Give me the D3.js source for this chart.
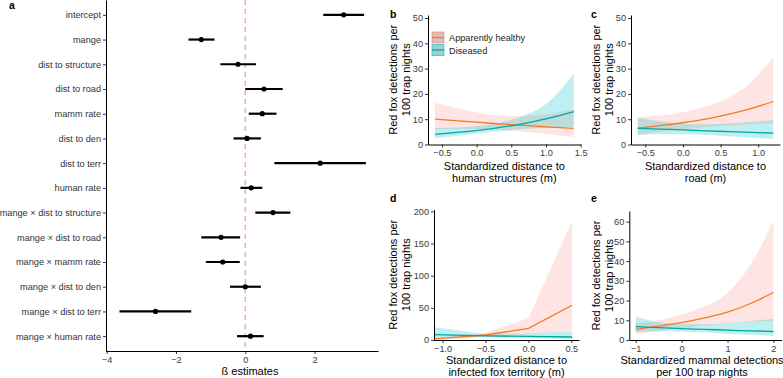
<!DOCTYPE html>
<html>
<head>
<meta charset="utf-8">
<script src="https://cdn.jsdelivr.net/npm/d3@7"></script>
<style>
  body { margin: 0; background: #fff; }
  svg { display: block; font-family: "Liberation Sans", Arial, sans-serif; }
  .tick text { font-size: 9.2px; fill: #3a3a3a; font-family: "Liberation Sans", Arial, sans-serif; }
  .tick line, .domain { stroke: #000; }
  .axis-title { font-size: 11px; fill: #000; }
  .panel-label { font-size: 10.5px; font-weight: bold; }
  .legend-text { font-size: 9.2px; fill: #222; }
</style>
</head>
<body>
<script>
/*
 * Fox detection model: coefficient plot (a) and predicted detections (b-e).
 */

// ---- panel a: beta estimates with intervals ----
const TERMS = ['intercept', 'mange', 'dist to structure', 'dist to road', 'mamm rate',
  'dist to den', 'dist to terr', 'human rate', 'mange × dist to structure',
  'mange × dist to road', 'mange × mamm rate', 'mange × dist to den',
  'mange × dist to terr', 'mange × human rate'];
const EST     = [2.84, -1.27, -0.21, 0.54, 0.49, 0.05, 2.16, 0.17, 0.80, -0.70, -0.65, 0.00, -2.59, 0.15];
const CI_LOW  = [2.25, -1.64, -0.72, 0.00, 0.10, -0.34, 0.84, -0.14, 0.29, -1.27, -1.14, -0.44, -3.63, -0.24];
const CI_HIGH = [3.43, -0.89, 0.31, 1.08, 0.90, 0.45, 3.48, 0.49, 1.30, -0.15, -0.16, 0.45, -1.56, 0.53];
const A_TICKS = [-4, -2, 0, 2];

// ---- panel b: distance to human structures ----
const B_X = [-0.6, -0.2, 0.2, 0.6, 1.0, 1.4];
const B_HEALTHY      = [10.0, 9.2, 8.4, 7.7, 7.0, 6.4];
const B_HEALTHY_LOW  = [6.0, 6.2, 6.0, 5.2, 4.2, 3.0];
const B_HEALTHY_HIGH = [16.5, 13.8, 11.8, 11.3, 12.0, 13.8];
const B_DISEASED      = [4.0, 5.0, 6.2, 7.9, 10.1, 13.0];
const B_DISEASED_LOW  = [2.5, 3.7, 4.9, 5.9, 6.6, 7.0];
const B_DISEASED_HIGH = [6.5, 6.8, 7.9, 10.7, 16.0, 28.0];
const B_XTICKS = [-0.5, 0, 0.5, 1, 1.5];
const B_YTICKS = [0, 10, 20, 30, 40, 50];

// ---- panel c: distance to road ----
const C_X = [-0.6, -0.3, 0, 0.3, 0.6, 0.9, 1.2];
const C_HEALTHY      = [6.5, 7.5, 8.6, 10.0, 11.9, 14.2, 17.0];
const C_HEALTHY_LOW  = [4.0, 5.0, 6.0, 6.8, 7.5, 8.0, 8.3];
const C_HEALTHY_HIGH = [10.8, 11.5, 12.8, 15.0, 18.5, 24.5, 34.5];
const C_DISEASED      = [6.4, 6.1, 5.8, 5.4, 5.1, 4.8, 4.5];
const C_DISEASED_LOW  = [3.8, 4.1, 4.1, 3.8, 3.3, 2.8, 2.2];
const C_DISEASED_HIGH = [10.5, 9.2, 8.2, 8.0, 8.3, 8.9, 9.6];
const C_XTICKS = [-0.5, 0, 0.5, 1];
const C_YTICKS = [0, 10, 20, 30, 40, 50];

// ---- panel d: distance to infected fox territory ----
const D_X = [-1.09, -0.5, 0.0, 0.51];
const D_HEALTHY      = [1.8, 7.8, 18.0, 54.0];
const D_HEALTHY_LOW  = [0.5, 5.0, 9.0, 15.0];
const D_HEALTHY_HIGH = [3.5, 11.0, 34.0, 185.0];
const D_DISEASED      = [8.5, 6.3, 5.5, 4.7];
const D_DISEASED_LOW  = [3.5, 4.5, 3.0, 1.5];
const D_DISEASED_HIGH = [20.0, 9.0, 10.0, 14.0];
const D_XTICKS = [-1, -0.5, 0, 0.5];
const D_YTICKS = [0, 50, 100, 150, 200];

// ---- panel e: mammal detections ----
const E_X = [-1, -0.5, 0, 0.5, 1, 1.5, 2];
const E_HEALTHY      = [5.4, 7.0, 8.8, 11.2, 14.1, 18.5, 24.1];
const E_HEALTHY_LOW  = [3.2, 4.6, 6.0, 7.3, 8.4, 9.2, 9.7];
const E_HEALTHY_HIGH = [8.5, 10.0, 13.0, 17.0, 24.0, 38.0, 60.5];
const E_DISEASED      = [6.8, 6.3, 5.8, 5.4, 5.0, 4.6, 4.3];
const E_DISEASED_LOW  = [4.0, 4.4, 4.3, 3.8, 3.2, 2.6, 2.0];
const E_DISEASED_HIGH = [11.9, 9.0, 8.0, 8.0, 8.5, 9.5, 10.8];
const E_XTICKS = [-1, 0, 1, 2];
const E_YTICKS = [0, 10, 20, 30, 40, 50, 60];

const LEGEND_LABELS = ['Apparently healthy', 'Diseased'];

// colours
const COLOR_HEALTHY = '#f47b20';
const COLOR_HEALTHY_FILL = '#F8766D';
const COLOR_DISEASED = '#00a89f';
const COLOR_DISEASED_FILL = '#00BFC4';

const WIDTH = 783;
const HEIGHT = 378;

const svg = d3.select('body')
  .append('svg')
    .attr('width', WIDTH)
    .attr('height', HEIGHT);

const styleAxis = g => {
  g.selectAll('.domain').attr('stroke-width', 1);
  g.selectAll('.tick line').attr('stroke-width', 0.8);
  g.attr('font-size', null).attr('font-family', null);
};

/*
 * Panel a: coefficient estimates.
 */
const addCoefPanel = () => {
  const left = 106, right = 378, bottom = 351;
  const xScale = d3.scaleLinear().domain([-4.02, 3.83]).range([left, right]);
  const yScale = d3.scalePoint().domain(TERMS).range([0, bottom]).padding(0.6);
  const g = svg.append('g').attr('id', 'panel-a');

  // zero line
  g.append('line')
      .attr('x1', xScale(0)).attr('x2', xScale(0))
      .attr('y1', 0).attr('y2', bottom)
      .attr('stroke', '#f5a9bb')
      .attr('stroke-width', 1.5)
      .attr('stroke-dasharray', '5,4');

  // intervals
  g.selectAll('.ci')
    .data(TERMS)
    .enter()
    .append('line')
      .attr('class', 'ci')
      .attr('x1', (d, i) => xScale(CI_LOW[i]))
      .attr('x2', (d, i) => xScale(CI_HIGH[i]))
      .attr('y1', d => yScale(d))
      .attr('y2', d => yScale(d))
      .attr('stroke', '#000')
      .attr('stroke-width', 2.2);

  g.selectAll('.dot')
    .data(TERMS)
    .enter()
    .append('circle')
      .attr('class', 'dot')
      .attr('cx', (d, i) => xScale(EST[i]))
      .attr('cy', d => yScale(d))
      .attr('r', 2.6)
      .attr('fill', '#000');

  g.append('g')
      .attr('transform', `translate(0, ${bottom})`)
      .call(d3.axisBottom(xScale).tickValues(A_TICKS).tickSize(3).tickSizeOuter(0).tickPadding(2.5))
      .call(styleAxis);

  g.append('g')
      .attr('transform', `translate(${left}, 0)`)
      .call(d3.axisLeft(yScale).tickSize(3).tickSizeOuter(0).tickPadding(2))
      .call(styleAxis)
      .selectAll('.tick text').style('fill', '#333');

  g.append('text')
      .attr('class', 'axis-title')
      .attr('x', 250)
      .attr('y', 375)
      .attr('text-anchor', 'middle')
      .text('ß estimates');

  g.append('text')
      .attr('class', 'panel-label')
      .attr('x', 9)
      .attr('y', 8.5)
      .text('a');
};

/*
 * Panels b-e: predicted detections for healthy and diseased foxes.
 */
const addPredPanel = p => {
  const xScale = d3.scaleLinear().domain(p.xDomain).range(p.xRange);
  const yScale = d3.scaleLinear().domain(p.yDomain).range(p.yRange);
  const g = svg.append('g');
  const curve = p.smooth ? d3.curveMonotoneX : d3.curveLinear;

  const rows = p.x.map((x, i) => ({
    x,
    hFit: p.healthy[i], hLow: p.healthyLow[i], hHigh: p.healthyHigh[i],
    dFit: p.diseased[i], dLow: p.diseasedLow[i], dHigh: p.diseasedHigh[i]
  }));

  const band = (lo, hi) => d3.area()
      .x(d => xScale(d.x))
      .y0(d => yScale(d[lo]))
      .y1(d => yScale(d[hi]))
      .curve(curve);
  const line = key => d3.line()
      .x(d => xScale(d.x))
      .y(d => yScale(d[key]))
      .curve(curve);

  g.append('path').datum(rows)
      .attr('d', band('hLow', 'hHigh'))
      .attr('fill', COLOR_HEALTHY_FILL)
      .attr('fill-opacity', 0.2);
  g.append('path').datum(rows)
      .attr('d', band('dLow', 'dHigh'))
      .attr('fill', COLOR_DISEASED_FILL)
      .attr('fill-opacity', 0.25);
  g.append('path').datum(rows)
      .attr('d', line('hFit'))
      .attr('fill', 'none')
      .attr('stroke', COLOR_HEALTHY)
      .attr('stroke-width', 1.3);
  g.append('path').datum(rows)
      .attr('d', line('dFit'))
      .attr('fill', 'none')
      .attr('stroke', COLOR_DISEASED)
      .attr('stroke-width', 1.3);

  g.append('g')
      .attr('transform', `translate(0, ${p.yRange[0]})`)
      .call(d3.axisBottom(xScale).tickValues(p.xTicks).tickFormat(p.xFormat)
            .tickSize(3).tickSizeOuter(0).tickPadding(2))
      .call(styleAxis);

  g.append('g')
      .attr('transform', `translate(${p.xRange[0]}, 0)`)
      .call(d3.axisLeft(yScale).tickValues(p.yTicks).tickSize(3).tickSizeOuter(0).tickPadding(2))
      .call(styleAxis);

  // x title, two lines
  const xMid = p.xTitleX || (p.xRange[0] + p.xRange[1]) / 2;
  p.xTitle.forEach((t, i) => {
    g.append('text')
        .attr('class', 'axis-title')
        .attr('x', xMid)
        .attr('y', p.yRange[0] + p.xTitleGap + i * 11.5)
        .attr('text-anchor', 'middle')
        .text(t);
  });

  // y title, two lines
  const yMid = (p.yRange[0] + p.yRange[1]) / 2;
  ['Red fox detections per', '100 trap nights'].forEach((t, i) => {
    const tx = p.yTitleX + i * 12.5;
    g.append('text')
        .attr('class', 'axis-title')
        .attr('transform', `translate(${tx}, ${yMid}) rotate(-90)`)
        .attr('text-anchor', 'middle')
        .text(t);
  });

  g.append('text')
      .attr('class', 'panel-label')
      .attr('x', p.labelPos[0])
      .attr('y', p.labelPos[1])
      .text(p.label);

  if (p.legend) {
    const lg = g.append('g').attr('transform', 'translate(432, 32)');
    const keys = [
      {fill: COLOR_HEALTHY_FILL, line: COLOR_HEALTHY},
      {fill: COLOR_DISEASED_FILL, line: COLOR_DISEASED}
    ];
    keys.forEach((k, i) => {
      const ky = i * 12.5;
      lg.append('rect')
          .attr('x', 0).attr('y', ky)
          .attr('width', 12).attr('height', 11)
          .attr('fill', '#d6d6d6');
      lg.append('rect')
          .attr('x', 0).attr('y', ky)
          .attr('width', 12).attr('height', 11)
          .attr('fill', k.fill).attr('fill-opacity', 0.25)
          .attr('stroke', k.fill).attr('stroke-opacity', 0.6)
          .attr('stroke-width', 1);
      lg.append('line')
          .attr('x1', 0).attr('x2', 12)
          .attr('y1', ky + 5.5).attr('y2', ky + 5.5)
          .attr('stroke', k.line)
          .attr('stroke-width', 1.3);
      lg.append('text')
          .attr('class', 'legend-text')
          .attr('x', 17)
          .attr('y', ky + 9)
          .text(LEGEND_LABELS[i]);
    });
  }
};

const fmt1 = d3.format('.1f');

addCoefPanel();

addPredPanel({
  label: 'b', labelPos: [390, 18], legend: true, smooth: true,
  x: B_X, healthy: B_HEALTHY, healthyLow: B_HEALTHY_LOW, healthyHigh: B_HEALTHY_HIGH,
  diseased: B_DISEASED, diseasedLow: B_DISEASED_LOW, diseasedHigh: B_DISEASED_HIGH,
  xDomain: [-0.7, 1.5], xRange: [428, 580.7],
  yDomain: [0, 51.2], yRange: [144.5, 15],
  xTicks: B_XTICKS, xFormat: fmt1, yTicks: B_YTICKS,
  xTitle: ['Standardized distance to', 'human structures (m)'], xTitleGap: 25.5,
  yTitleX: 397
});

addPredPanel({
  label: 'c', labelPos: [591, 18], smooth: true,
  x: C_X, healthy: C_HEALTHY, healthyLow: C_HEALTHY_LOW, healthyHigh: C_HEALTHY_HIGH,
  diseased: C_DISEASED, diseasedLow: C_DISEASED_LOW, diseasedHigh: C_DISEASED_HIGH,
  xDomain: [-0.69, 1.29], xRange: [631, 780],
  yDomain: [0, 51.2], yRange: [144.5, 15],
  xTicks: C_XTICKS, xFormat: fmt1, yTicks: C_YTICKS,
  xTitle: ['Standardized distance to', 'road (m)'], xTitleGap: 25.5,
  yTitleX: 600
});

addPredPanel({
  label: 'd', labelPos: [390, 201.5], smooth: false,
  x: D_X, healthy: D_HEALTHY, healthyLow: D_HEALTHY_LOW, healthyHigh: D_HEALTHY_HIGH,
  diseased: D_DISEASED, diseasedLow: D_DISEASED_LOW, diseasedHigh: D_DISEASED_HIGH,
  xDomain: [-1.1, 0.59], xRange: [434, 579],
  yDomain: [0, 203], yRange: [340, 209.5],
  xTicks: D_XTICKS, xFormat: fmt1, yTicks: D_YTICKS,
  xTitle: ['Standardized distance to', 'infected fox territory (m)'], xTitleGap: 24,
  yTitleX: 397
});

addPredPanel({
  label: 'e', labelPos: [591, 201.5], smooth: true,
  x: E_X, healthy: E_HEALTHY, healthyLow: E_HEALTHY_LOW, healthyHigh: E_HEALTHY_HIGH,
  diseased: E_DISEASED, diseasedLow: E_DISEASED_LOW, diseasedHigh: E_DISEASED_HIGH,
  xDomain: [-1.14, 2.18], xRange: [629.3, 781.7],
  yDomain: [0, 65.4], yRange: [340, 211],
  xTicks: E_XTICKS, xFormat: d3.format('d'), yTicks: E_YTICKS,
  xTitle: ['Standardized mammal detections', 'per 100 trap nights'], xTitleGap: 24,
  xTitleX: 702,
  yTitleX: 600
});
</script>
</body>
</html>
